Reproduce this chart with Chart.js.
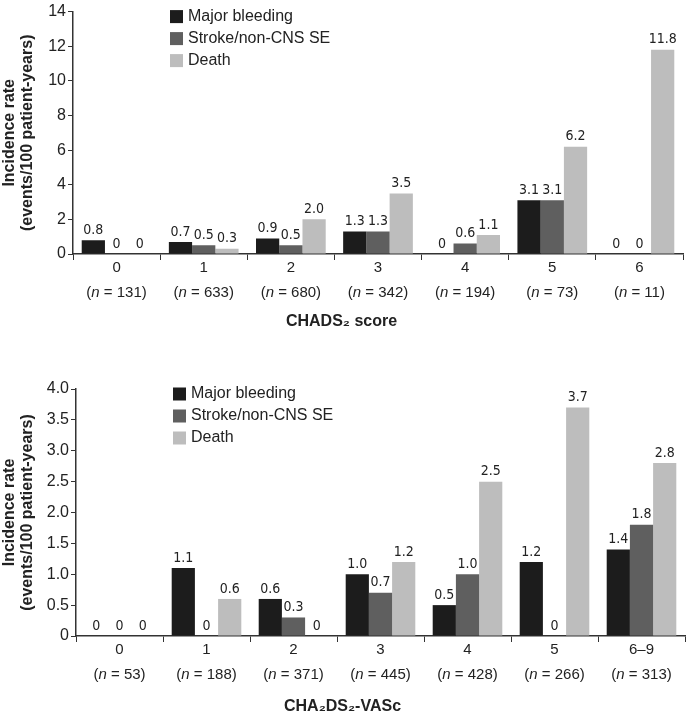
<!DOCTYPE html>
<html>
<head>
<meta charset="utf-8">
<script src="https://cdn.jsdelivr.net/npm/chart.js@4"></script>
<style>
  body { margin: 0; background: #fff; }
  canvas { display: block; }
</style>
</head>
<body>
<canvas id="chads" width="686" height="340"></canvas>
<canvas id="vasc" width="686" height="376"></canvas>
<script>
// CHADS2 score panel
const chadsCats = ['0', '1', '2', '3', '4', '5', '6'];
const chadsN = [131, 633, 680, 342, 194, 73, 11];
const chadsBleeding = [0.8, 0.7, 0.9, 1.3, 0, 3.1, 0];
const chadsStroke = [0, 0.5, 0.5, 1.3, 0.6, 3.1, 0];
const chadsDeath = [0, 0.3, 2.0, 3.5, 1.1, 6.2, 11.8];

// CHA2DS2-VASc panel
const vascCats = ['0', '1', '2', '3', '4', '5', '6–9'];
const vascN = [53, 188, 371, 445, 428, 266, 313];
const vascBleeding = [0, 1.1, 0.6, 1.0, 0.5, 1.2, 1.4];
const vascStroke = [0, 0, 0.3, 0.7, 1.0, 0, 1.8];
const vascDeath = [0, 0.6, 0, 1.2, 2.5, 3.7, 2.8];

const seriesNames = ['Major bleeding', 'Stroke/non-CNS SE', 'Death'];
const seriesColors = ['#1c1c1c', '#5f5f5f', '#bdbdbd'];

const FONT = '"Liberation Sans", Arial, sans-serif';
Chart.defaults.font.family = FONT;
Chart.defaults.color = '#222';

// value labels above each bar
const barLabels = {
  id: 'barLabels',
  afterDatasetsDraw(chart) {
    const ctx = chart.ctx;
    ctx.save();
    ctx.font = '14px "Liberation Sans Narrow", "DejaVu Sans Condensed", sans-serif';
    ctx.fillStyle = '#222';
    ctx.textAlign = 'center';
    ctx.textBaseline = 'bottom';
    chart.data.datasets.forEach((ds, i) => {
      chart.getDatasetMeta(i).data.forEach((bar, j) => {
        const v = ds.data[j];
        ctx.fillText(v === 0 ? '0' : v.toFixed(1), bar.x, bar.y - 3);
      });
    });
    ctx.restore();
  }
};

// two-line category labels, with italic n
const catLabels = {
  id: 'catLabels',
  afterDraw(chart, args, opts) {
    const xs = chart.scales.x;
    const ctx = chart.ctx;
    const bottom = chart.chartArea.bottom;
    const reg = '15px ' + FONT;
    const ital = 'italic 15px ' + FONT;
    ctx.save();
    ctx.fillStyle = '#222';
    ctx.textBaseline = 'middle';
    chart.data.labels.forEach((lab, i) => {
      const cx = xs.getPixelForValue(i);
      ctx.font = reg;
      ctx.textAlign = 'center';
      ctx.fillText(lab, cx, bottom + 14);
      const a = '(', b = 'n', c = ' = ' + opts.counts[i] + ')';
      const wa = ctx.measureText(a).width;
      const wc = ctx.measureText(c).width;
      ctx.font = ital;
      const wb = ctx.measureText(b).width;
      const sx = cx - (wa + wb + wc) / 2;
      const y2 = bottom + 39;
      ctx.textAlign = 'left';
      ctx.font = reg;
      ctx.fillText(a, sx, y2);
      ctx.font = ital;
      ctx.fillText(b, sx + wa, y2);
      ctx.font = reg;
      ctx.fillText(c, sx + wa + wb, y2);
    });
    ctx.restore();
  }
};

// vertical legend inside the plot
const boxLegend = {
  id: 'boxLegend',
  afterDraw(chart) {
    const ctx = chart.ctx;
    const left = chart.chartArea.left + 97;
    const top = chart.chartArea.top + 5;
    ctx.save();
    ctx.font = '16px ' + FONT;
    ctx.textBaseline = 'middle';
    ctx.textAlign = 'left';
    chart.data.datasets.forEach((ds, i) => {
      const y = top + i * 22;
      ctx.fillStyle = ds.backgroundColor;
      ctx.fillRect(left, y - 6.5, 13, 13);
      ctx.fillStyle = '#222';
      ctx.fillText(ds.label, left + 18, y);
    });
    ctx.restore();
  }
};

function makeChart(id, cats, counts, bleeding, stroke, death, yMax, yStep, cfg) {
  const values = [bleeding, stroke, death];
  return new Chart(document.getElementById(id), {
    type: 'bar',
    data: {
      labels: cats,
      datasets: values.map((d, i) => ({
        label: seriesNames[i],
        data: d,
        backgroundColor: seriesColors[i],
        borderWidth: 0,
        categoryPercentage: 0.8,
        barPercentage: 1.0
      }))
    },
    options: {
      responsive: false,
      animation: false,
      devicePixelRatio: 1,
      layout: { padding: { top: cfg.padTop, right: cfg.padRight, left: 0, bottom: 0 } },
      plugins: {
        legend: { display: false },
        tooltip: { enabled: false },
        title: {
          display: true,
          position: 'bottom',
          text: cfg.xTitle,
          color: '#222',
          font: { size: 16, weight: 'bold', lineHeight: 1.2 },
          padding: { top: 0, bottom: cfg.titlePad }
        },
        catLabels: { counts: counts }
      },
      scales: {
        x: {
          ticks: { display: false },
          grid: { drawOnChartArea: false, drawTicks: true, tickLength: 6, color: '#333', offset: true },
          border: { color: '#333', width: 1.5 },
          afterFit(scale) { scale.height = cfg.xHeight; }
        },
        y: {
          min: 0,
          max: yMax,
          ticks: {
            stepSize: yStep,
            padding: 2,
            color: '#222',
            font: { size: 16 },
            callback: v => v === 0 ? '0' : (yStep < 1 ? v.toFixed(1) : String(v))
          },
          grid: { drawOnChartArea: false, drawTicks: true, tickLength: 5, color: '#333' },
          border: { color: '#333', width: 1.5 },
          title: {
            display: true,
            text: ['Incidence rate', '(events/100 patient-years)'],
            color: '#222',
            font: { size: 16, weight: 'bold', lineHeight: 1.1 },
            padding: { top: 1, bottom: 0 }
          },
          afterFit(scale) { scale.width = cfg.axisWidth; }
        }
      }
    },
    plugins: [barLabels, catLabels, boxLegend]
  });
}

makeChart('chads', chadsCats, chadsN, chadsBleeding, chadsStroke, chadsDeath, 14, 2, {
  padTop: 8, padRight: 3, axisWidth: 73, xHeight: 58.4, titlePad: 8.4, xTitle: 'CHADS₂ score'
});

makeChart('vasc', vascCats, vascN, vascBleeding, vascStroke, vascDeath, 4, 0.5, {
  padTop: 49, padRight: 1, axisWidth: 76, xHeight: 60.8, titlePad: 0, xTitle: 'CHA₂DS₂-VASc'
});
</script>
</body>
</html>
